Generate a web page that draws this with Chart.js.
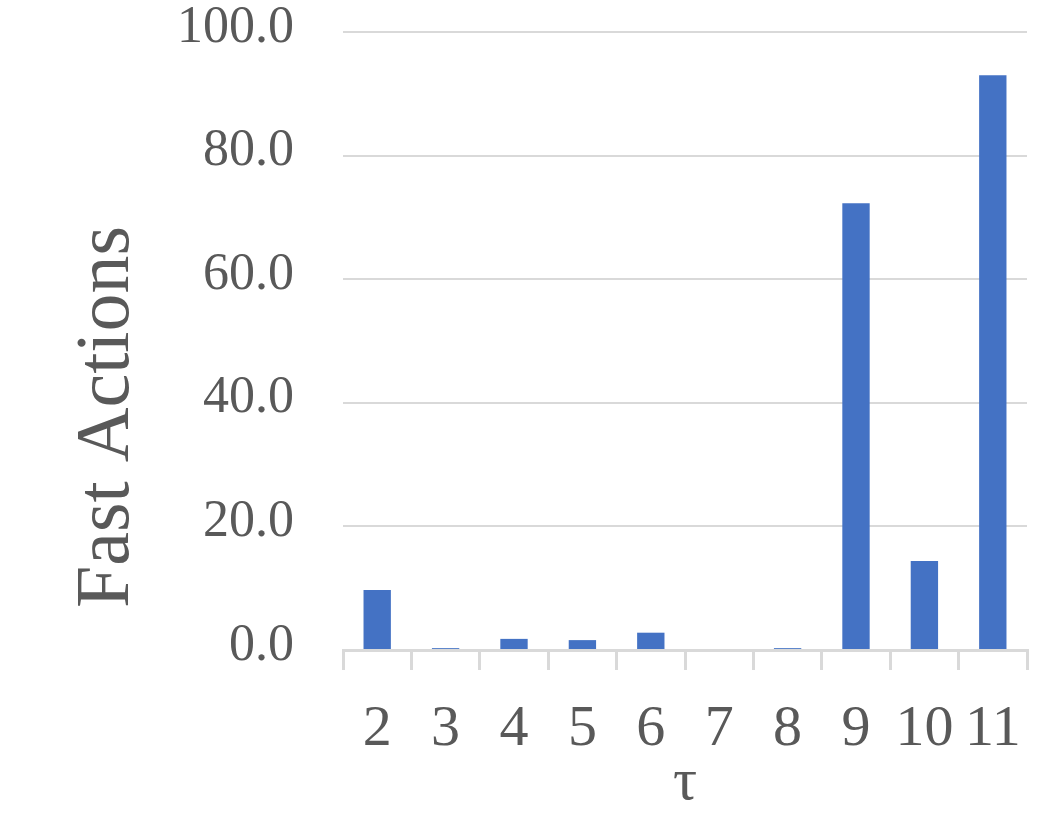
<!DOCTYPE html>
<html>
<head>
<meta charset="utf-8">
<script src="https://cdn.jsdelivr.net/npm/chart.js@4/dist/chart.umd.min.js"></script>
<style>
  html, body { margin: 0; padding: 0; background: #ffffff; }
  #wrap { width: 1039px; height: 832px; position: relative; }
</style>
</head>
<body>
<div id="wrap"><canvas id="c"></canvas></div>
<script>
const categories = ["2", "3", "4", "5", "6", "7", "8", "9", "10", "11"];
const fastActions = [9.7, 0.3, 1.8, 1.6, 2.8, 0.0, 0.3, 72.3, 14.4, 93.0];
const yTickValues = [0, 20, 40, 60, 80, 100];
const xTitle = "τ";
const yTitle = "Fast Actions";

const FONT = "'Liberation Serif', 'DejaVu Serif', serif";
const TEXT = "#595959";
const GRID = "#d9d9d9";

new Chart(document.getElementById("c"), {
  type: "bar",
  data: {
    labels: categories,
    datasets: [{
      label: yTitle,
      data: fastActions,
      backgroundColor: "#4472C4",
      borderWidth: 0,
      barPercentage: 0.4,
      categoryPercentage: 1.0
    }]
  },
  options: {
    responsive: true,
    maintainAspectRatio: false,
    animation: false,
    layout: { padding: { top: 32, right: 12, bottom: 0, left: 0 } },
    plugins: { legend: { display: false }, tooltip: { enabled: false } },
    scales: {
      x: {
        grid: {
          display: true,
          offset: true,
          drawOnChartArea: false,
          drawTicks: true,
          tickLength: 20,
          color: GRID,
          lineWidth: 3
        },
        border: { display: true, color: GRID, width: 3 },
        ticks: {
          color: TEXT,
          font: { family: FONT, size: 58 },
          padding: 25,
          maxRotation: 0,
          autoSkip: false
        },
        title: {
          display: true,
          text: xTitle,
          color: TEXT,
          font: { family: FONT, size: 60 },
          padding: { top: 0, bottom: 13 }
        },
        afterFit: (scale) => {
          scale.height = 182;
          scale.paddingLeft = 0;
          scale.paddingRight = 0;
        }
      },
      y: {
        min: 0,
        max: 100,
        afterBuildTicks: (scale) => { scale.ticks = yTickValues.map(v => ({ value: v })); },
        grid: {
          color: GRID,
          lineWidth: 2,
          drawTicks: false
        },
        border: { display: false },
        ticks: {
          color: TEXT,
          font: { family: FONT, size: 52 },
          padding: 49,
          labelOffset: -4,
          callback: (v) => Number(v).toFixed(1)
        },
        title: {
          display: true,
          text: yTitle + "        ",
          color: TEXT,
          font: { family: FONT, size: 76 },
          padding: { top: 62, bottom: 0 }
        },
        afterFit: (scale) => {
          scale.width = 343;
          scale.paddingTop = 0;
          scale.paddingBottom = 0;
        }
      }
    }
  }
});
</script>
</body>
</html>
